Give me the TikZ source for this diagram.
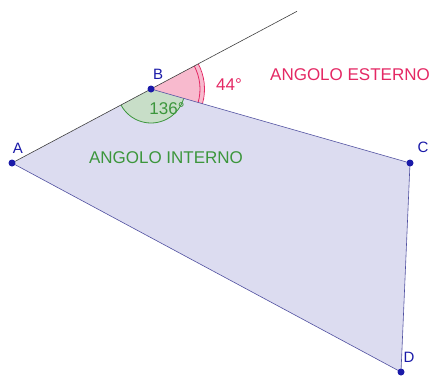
\documentclass[tikz,border=0pt]{standalone}
\usepackage{fontspec}
\setmainfont{Liberation Sans}
\definecolor{polyfill}{RGB}{220,220,240}
\definecolor{polyline}{RGB}{80,80,160}
\definecolor{ptblue}{RGB}{26,26,168}
\definecolor{intgreen}{RGB}{60,150,60}
\definecolor{intfill}{RGB}{200,222,200}
\definecolor{extred}{RGB}{228,40,100}
\definecolor{extfill}{RGB}{248,186,206}
\begin{document}
\begin{tikzpicture}
[x=1pt,y=1pt,
point/.style={circle,fill=ptblue,inner sep=0pt,minimum size=7pt},
ptlabel/.style={text=ptblue,font=\fontsize{15}{18}\selectfont},
anglelabel/.style={font=\fontsize{17}{20}\selectfont}]
\useasboundingbox (0,0) rectangle (444,376);
% vertices
\coordinate (A) at (12,213);
\coordinate (B) at (151,287);
\coordinate (C) at (410,213);
\coordinate (D) at (401,4);
\coordinate (Bend) at (297,364.7);
% polygon
\fill[polyfill] (A) -- (B) -- (C) -- (D) -- cycle;
% interior angle
\fill[intfill] (B) -- ++(208:34) arc[start angle=208,end angle=344,radius=34] -- cycle;
\draw[intgreen,thick] (B) ++(208:34) arc[start angle=208,end angle=344,radius=34];
% exterior angle
\fill[extfill] (B) -- ++(-16:53) arc[start angle=-16,end angle=28,radius=53] -- cycle;
\draw[extred,thick] (B) ++(-16:49) arc[start angle=-16,end angle=28,radius=49];
\draw[extred,thick] (B) ++(-16:53.5) arc[start angle=-16,end angle=28,radius=53.5];
% sides
\draw[polyline,semithick] (B) -- (C) -- (D) -- (A);
\draw[black!75,semithick] (A) -- (B) -- (Bend);
% points
\node[point] (pA) at (A) {};
\node[point] (pB) at (B) {};
\node[point] (pC) at (C) {};
\node[point] (pD) at (D) {};
\node[ptlabel] (lA) at (18,228) {A};
\node[ptlabel] (lB) at (158,302) {B};
\node[ptlabel] (lC) at (423,229) {C};
\node[ptlabel] (lD) at (409,19) {D};
% labels
\node[anglelabel,text=intgreen] (v136) at (167,267) {136°};
\node[anglelabel,text=extred] (v44) at (229,291) {44°};
\node[anglelabel,text=extred] (ext) at (350,301) {ANGOLO ESTERNO};
\node[anglelabel,text=intgreen] (int) at (166,218) {ANGOLO INTERNO};
\end{tikzpicture}
\end{document}
